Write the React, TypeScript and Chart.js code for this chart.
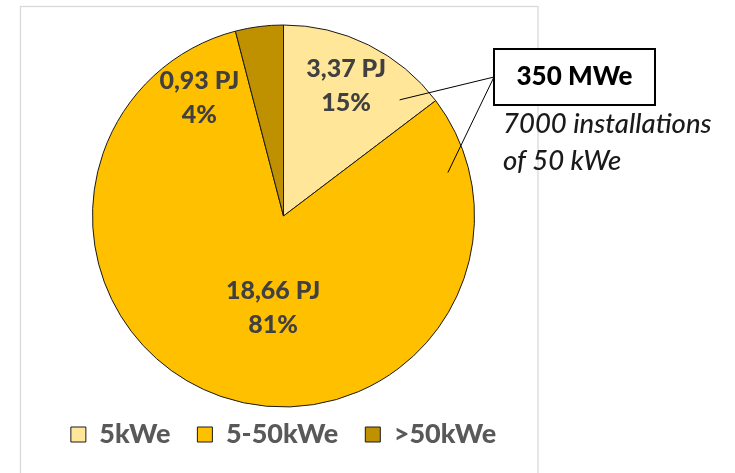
import React, { useEffect, useRef } from "react";
import { Chart, registerables } from "chart.js";

Chart.register(...registerables);

// ---- data ----
const categories = ["5kWe", "5-50kWe", ">50kWe"];
const energyPJ = [3.37, 18.66, 0.93];
const sliceColors = ["#FFE699", "#FFC000", "#BF9000"];
const calloutTitle = "350 MWe";
const calloutLines = ["7000 installations", "of 50 kWe"];

// ---- label placement (clockwise degrees from top, fraction of radius) ----
const labelPlacement = [
  { angle: 25.8, frac: 0.754 },
  { angle: 186.5, frac: 0.483 },
  { angle: 324.4, frac: 0.757 },
];
const calloutLeaders = [
  { slice: 0, angle: 45, frac: 0.86 },
  { slice: 1, angle: 75.2, frac: 0.89 },
];

const total = energyPJ.reduce((a, b) => a + b, 0);
const fmtPJ = (v: number) => v.toFixed(2).replace(".", ",") + " PJ";
const fmtPct = (v: number) => Math.round((v / total) * 100) + "%";

const polar = (x: number, y: number, r: number, deg: number, frac: number) => {
  const a = ((deg - 90) * Math.PI) / 180;
  return [x + Math.cos(a) * r * frac, y + Math.sin(a) * r * frac];
};

const overlayPlugin = {
  id: "overlay",
  beforeDraw(chart: any) {
    const ctx = chart.ctx;
    ctx.save();
    ctx.fillStyle = "#ffffff";
    ctx.fillRect(0, 0, chart.width, chart.height);
    ctx.strokeStyle = "#d9d9d9";
    ctx.lineWidth = 1.3;
    ctx.strokeRect(20.5, 6.5, 517.5, 520);
    ctx.restore();
  },
  afterDatasetsDraw(chart: any) {
    const ctx = chart.ctx;
    const meta = chart.getDatasetMeta(0);
    ctx.save();
    // data labels
    ctx.font = "900 25px Lato";
    ctx.fillStyle = "#404040";
    ctx.textAlign = "center";
    ctx.textBaseline = "middle";
    meta.data.forEach((arc: any, i: number) => {
      const { x, y, outerRadius } = arc.getProps(["x", "y", "outerRadius"], true);
      const p = labelPlacement[i];
      const [lx, ly] = polar(x, y, outerRadius, p.angle, p.frac);
      ctx.fillText(fmtPJ(energyPJ[i]), lx, ly - 17);
      ctx.fillText(fmtPct(energyPJ[i]), lx, ly + 17);
    });
    // callout box
    const bx = 494, by = 49, bw = 161, bh = 56;
    const ax = bx, ay = by + bh / 2;
    ctx.strokeStyle = "#000000";
    ctx.lineWidth = 1;
    calloutLeaders.forEach((l) => {
      const arc = meta.data[l.slice];
      const { x, y, outerRadius } = arc.getProps(["x", "y", "outerRadius"], true);
      const [px, py] = polar(x, y, outerRadius, l.angle, l.frac);
      ctx.beginPath();
      ctx.moveTo(px, py);
      ctx.lineTo(ax, ay);
      ctx.stroke();
    });
    ctx.fillStyle = "#ffffff";
    ctx.fillRect(bx, by, bw, bh);
    ctx.lineWidth = 2;
    ctx.strokeRect(bx, by, bw, bh);
    ctx.fillStyle = "#000000";
    ctx.font = "900 26px Lato";
    ctx.fillText(calloutTitle, bx + bw / 2, by + bh / 2);
    ctx.font = "italic 500 27.5px Lato";
    ctx.fillStyle = "#1a1a1a";
    ctx.textAlign = "left";
    ctx.textBaseline = "alphabetic";
    calloutLines.forEach((t, i) => ctx.fillText(t, 503, 133 + i * 37));
    ctx.restore();
  },
};

export default function App() {
  const ref = useRef<HTMLCanvasElement | null>(null);
  useEffect(() => {
    if (!ref.current) return;
    const chart = new Chart(ref.current, {
      type: "pie",
      data: {
        labels: categories,
        datasets: [
          {
            data: energyPJ,
            backgroundColor: sliceColors,
            borderColor: "#1a1a1a",
            borderWidth: 1,
            radius: 191,
          },
        ],
      },
      options: {
        animation: false,
        responsive: true,
        maintainAspectRatio: false,
        layout: { padding: { left: 10, right: 178, top: 38, bottom: 15 } },
        plugins: {
          tooltip: { enabled: false },
          legend: {
            position: "bottom",
            labels: {
              boxWidth: 15,
              boxHeight: 15,
              padding: 27,
              color: "#595959",
              font: { family: "Lato", size: 27, weight: "900" },
            },
          },
        },
      },
      plugins: [overlayPlugin],
    } as any);
    return () => chart.destroy();
  }, []);
  return (
    <div style={{ position: "fixed", left: 0, top: 0, width: 735, height: 473, background: "#fff" }}>
      <canvas ref={ref} />
    </div>
  );
}
